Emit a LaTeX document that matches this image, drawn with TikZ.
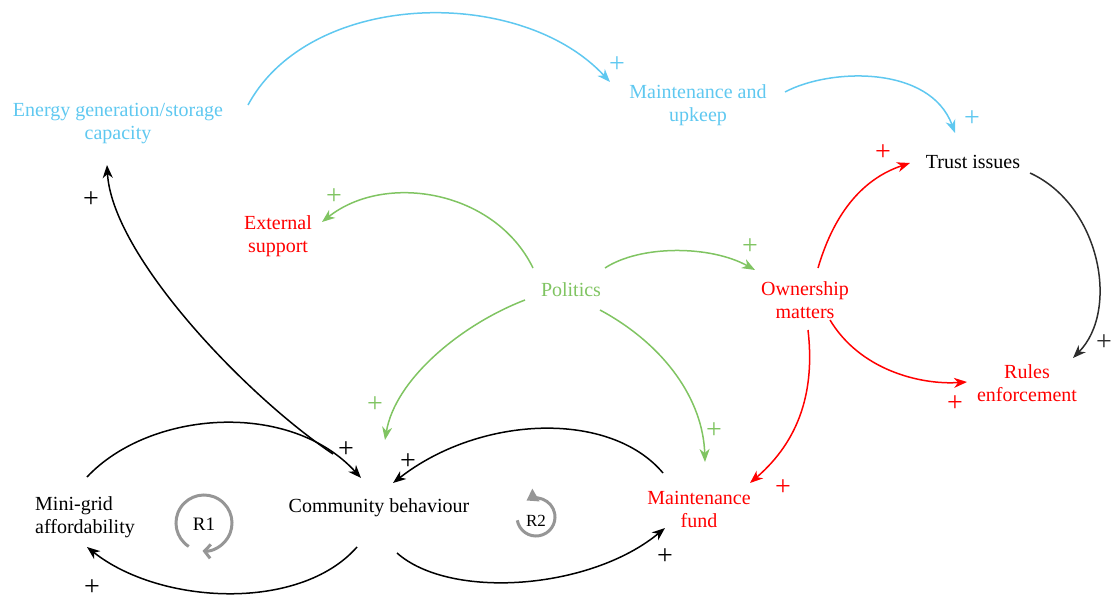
\documentclass[tikz,border=0pt]{standalone}
\usepackage{fontspec}
\setmainfont{Liberation Serif}
\newfontfamily\tms{Liberation Serif}
\usetikzlibrary{arrows.meta,calc}
\definecolor{cblue}{RGB}{95,200,240}
\definecolor{cgreen}{RGB}{128,196,98}
\definecolor{cred}{RGB}{255,0,0}
\definecolor{cdark}{RGB}{45,45,45}
\definecolor{cloop}{RGB}{150,150,150}
\begin{document}
\begin{tikzpicture}[x=1pt,y=-1pt,
  lbl/.style={font=\tms\fontsize{20}{23}\selectfont, align=center, inner sep=0pt},
  sgn/.style={font=\tms\fontsize{28}{28}\selectfont, inner sep=0pt},
  link/.style={line width=1.5pt, -{Stealth[length=13pt,width=10pt,inset=4pt]}},
  loopc/.style={cloop, line width=3pt}
]
\path[use as bounding box] (0,0) rectangle (1113,601);

% variables
\node[lbl, text=cblue] (energy) at (118,124) {Energy generation/storage\\capacity};
\node[lbl, text=cblue] (upkeep) at (698,105) {Maintenance and\\upkeep};
\node[lbl] (trust) at (973,162) {Trust issues};
\node[lbl, text=cred] (ext) at (278,236) {External\\support};
\node[lbl, text=cgreen] (pol) at (571,290) {Politics};
\node[lbl, text=cred] (own) at (805,300) {Ownership\\matters};
\node[lbl, text=cred] (rules) at (1027,383) {Rules\\enforcement};
\node[lbl, align=left] (mini) at (85,517) {Mini-grid\\affordability};
\node[lbl] (comm) at (379,508) {Community behaviour};
\node[lbl, text=cred] (fund) at (699,509) {Maintenance\\fund};

% blue links
\draw[link, cblue] ($(energy)+(130,-19)$) .. controls (310,-10) and (520,-15) .. ($(upkeep)+(-88,-23)$);
\draw[link, cblue] ($(upkeep)+(87,-13)$) .. controls (830,68) and (930,65) .. ($(trust)+(-18,-29)$);
% dark link
\draw[link, cdark] ($(trust)+(57,11)$) .. controls (1100,205) and (1120,310) .. ($(rules)+(46,-25)$);
% red links
\draw[link, cred] ($(own)+(13,-32)$) .. controls (835,210) and (865,178) .. ($(trust)+(-63,1)$);
\draw[link, cred] ($(own)+(25,20)$) .. controls (860,370) and (920,385) .. ($(rules)+(-60,-1)$);
\draw[link, cred] ($(own)+(3,30)$) .. controls (815,390) and (800,440) .. ($(fund)+(51,-26)$);
% green links
\draw[link, cgreen] ($(pol)+(-38,-22)$) .. controls (495,190) and (385,172) .. ($(ext)+(44,-14)$);
\draw[link, cgreen] ($(pol)+(34,-22)$) .. controls (640,245) and (710,245) .. ($(own)+(-50,-30)$);
\draw[link, cgreen] ($(pol)+(-46,10)$) .. controls (460,325) and (395,380) .. ($(comm)+(6,-68)$);
\draw[link, cgreen] ($(pol)+(29,20)$) .. controls (665,345) and (703,400) .. ($(fund)+(6,-47)$);
% black links
\draw[link] ($(comm)+(-46,-54)$) .. controls (245,395) and (112,255) .. ($(energy)+(-11,41)$);
\draw[link] ($(mini)+(2,-40)$) .. controls (150,410) and (290,400) .. ($(comm)+(-18,-30)$);
\draw[link] ($(fund)+(-36,-36)$) .. controls (610,410) and (480,415) .. ($(comm)+(14,-25)$);
\draw[link] ($(comm)+(-22,39)$) .. controls (300,612) and (160,605) .. ($(mini)+(2,30)$);
\draw[link] ($(comm)+(18,45)$) .. controls (450,600) and (590,590) .. ($(fund)+(-34,19)$);

% polarity signs
\node[sgn, text=cblue] (s1) at (617,65) {+};
\node[sgn, text=cblue] (s2) at (972,119) {+};
\node[sgn, text=cdark] (s3) at (1104,343) {+};
\node[sgn, text=cred] (s4) at (883,153) {+};
\node[sgn, text=cred] (s5) at (955,404) {+};
\node[sgn, text=cred] (s6) at (783,488) {+};
\node[sgn, text=cgreen] (s7) at (334,197) {+};
\node[sgn, text=cgreen] (s8) at (750,247) {+};
\node[sgn, text=cgreen] (s9) at (375,405) {+};
\node[sgn, text=cgreen] (s10) at (714,431) {+};
\node[sgn] (s11) at (91,200) {+};
\node[sgn] (s12) at (346,450) {+};
\node[sgn] (s13) at (408,462) {+};
\node[sgn] (s14) at (92,588) {+};
\node[sgn] (s15) at (665,557) {+};

% loop markers
\node[font=\tms\fontsize{19}{19}\selectfont, inner sep=0pt] (r1) at (204,524) {R1};
\node[font=\tms\fontsize{17}{17}\selectfont, inner sep=0pt] (r2) at (536,521) {R2};
\begin{scope}[shift={(204,523)}, yscale=-1]
  \draw[loopc, -{Straight Barb[length=6pt,width=14pt]}] (237:28) arc[start angle=237, end angle=-93, radius=28];
\end{scope}
\begin{scope}[shift={(536,517)}, yscale=-1]
  \draw[loopc, -{Triangle[length=11pt,width=14pt]}] (190:19) arc[start angle=190, end angle=480, radius=19];
\end{scope}
\end{tikzpicture}
\end{document}
